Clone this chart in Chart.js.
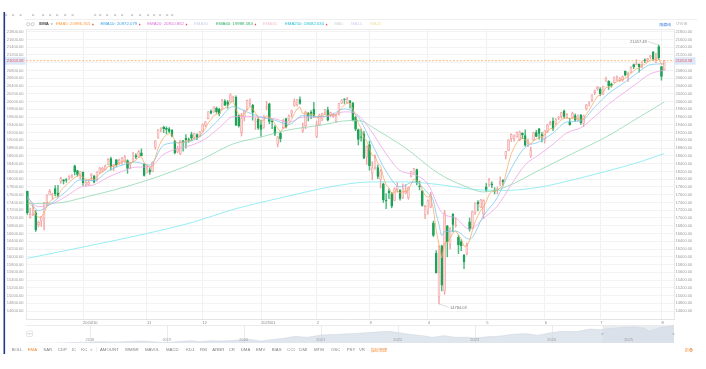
<!DOCTYPE html>
<html>
<head>
<meta charset="utf-8">
<script src="https://cdn.jsdelivr.net/npm/chart.js@4.4.1/dist/chart.umd.min.js"></script>
<style>
  body { margin: 0; background: #fff; width: 706px; height: 369px; overflow: hidden; position: relative; }
  canvas { position: absolute; left: 0; }
  #main { top: 0; }
  #nav { top: 325px; }
</style>
</head>
<body>
<canvas id="main" width="706" height="369"></canvas>
<canvas id="nav" width="706" height="18"></canvas>
<script>
// daily candles, 2024-09-03 .. 2025-08-04
const opens = [
  17689,17017,17088,17130,16824,16930,16985,17396,17594,17590,17755,17640,17940,17982,17990,18050,18070,18345,18218,18115,
  18178,17870,17857,18097,18080,17994,18176,18225,18250,18380,18530,18330,18500,18420,18460,18440,18480,18380,18460,18610,18580,18680,18380,
  18180,18240,18200,18830,19060,19280,19340,19310,19300,19260,18980,18700,18650,18990,19050,19020,19150,19080,19150,19100,
  19240,19390,19560,19750,19730,19830,19800,19800,20010,19990,19990,20100,20110,19640,19200,19590,19800,19960,19900,19480,19540,
  19400,19340,19850,19940,19480,19350,18900,19180,19330,19560,19550,19700,19900,19920,20050,19250,19380,19700,19730,19800,
  19100,19400,19550,19720,19790,19640,19620,19480,19680,19960,20070,19980,20020,19960,19600,19280,19080,19170,18570,
  18890,18160,18300,18300,18000,17880,17460,17690,17630,17450,17730,17720,17520,17640,17530,18070,18180,18250,17810,17700,17080,
  17180,17280,16870,16090,14970,16280,15120,16800,16320,17100,16800,16500,16390,16040,16080,16900,16750,17140,17400,17270,17100,
  17800,17850,17880,17720,17730,17890,17970,18600,18740,19040,19050,19100,19020,19180,19120,18860,18600,19010,19200,19300,19150,
  19040,19230,19420,19500,19440,19580,19620,19760,19590,19480,19570,19640,19520,19650,19440,19810,19960,20040,20230,20330,
  20320,20190,20530,20520,20460,20500,20620,20540,20560,20780,20700,20760,20950,20950,20960,20960,21070,21070,21150,21280,21110,21420,
  20900,20820
];
const highs = [
  17693,17255,17337,17192,16920,17036,17404,17603,17733,17640,17835,17842,18050,17990,18015,18093,18120,18364,18227,18200,
  18192,17972,17988,18140,18100,18195,18300,18308,18365,18530,18570,18380,18510,18520,18560,18610,18500,18440,18690,18650,18740,18780,18400,
  18360,18290,18450,19000,19280,19330,19365,19350,19330,19280,19000,18850,19000,19000,19150,19060,19210,19190,19170,19230,
  19420,19490,19740,19790,19870,19860,19830,20055,20050,20030,20205,20140,20150,19650,19700,19770,20035,20070,19930,19580,19580,
  19520,19640,20007,19960,19540,19380,19100,19210,19550,19570,19660,19780,20070,20060,20120,19450,19750,19720,19770,19980,
  19500,19680,19700,19800,19860,19730,19700,19670,19950,20050,20070,20110,20030,19980,19620,19290,19290,19230,18860,
  18980,18450,18630,18370,18250,17900,17630,17750,17660,17780,17910,17730,17880,17860,17800,18200,18280,18260,17950,17710,17330,
  17470,17660,16920,16160,16290,16300,17200,16810,16750,17110,17000,16560,16440,16060,16350,17000,17180,17390,17450,17480,17470,
  17890,18020,17930,17780,17800,18060,17990,18720,19020,19170,19140,19220,19240,19200,19270,19040,18830,19210,19260,19310,19200,
  19250,19420,19490,19580,19560,19620,19730,19780,19690,19570,19730,19680,19660,19670,19650,19930,20000,20180,20300,20390,
  20360,20400,20630,20540,20480,20640,20660,20620,20660,20790,20760,20900,20970,21080,20970,21030,21100,21120,21190,21290,21250,21457.48,
  20910,21060
];
const lows = [
  17091,16995,17060,16650,16770,16780,16690,17330,17590,17485,17570,17542,17893,17875,17917,17980,18030,18108,18080,18003,
  17841,17818,17842,17959,17906,17950,18150,18180,18235,18370,18230,18220,18330,18380,18380,18430,18150,18270,18450,18530,18560,18600,18080,
  18160,18120,18190,18770,19050,19220,19200,19170,19200,19090,18650,18680,18630,18720,18800,18950,18990,19030,19020,19090,
  19220,19350,19550,19680,19720,19700,19630,19790,19900,19830,19980,20010,19380,19340,19110,19500,19780,19880,19520,19280,19280,
  19100,19310,19780,19430,19300,19120,18830,18960,19300,19320,19500,19600,19880,19880,19930,19200,19300,19500,19560,19600,
  19070,19390,19500,19660,19500,19610,19590,19460,19650,19950,19950,19960,19830,19500,19250,18880,18980,18530,18380,
  18230,17990,18250,18010,17770,17400,17240,17500,17260,17440,17660,17460,17500,17630,17480,18050,18150,17850,17720,17300,16980,
  17100,17260,16520,15575,14784.03,15120,15030,16000,16200,16640,16760,16080,16160,15690,16050,16660,16730,17090,17180,17260,16980,
  17680,17810,17780,17620,17620,17830,17850,18520,18730,18970,18980,19080,18990,19040,18850,18840,18560,18990,19090,19030,18960,
  18930,19200,19400,19250,19400,19530,19570,19570,19560,19390,19560,19490,19500,19410,19360,19780,19890,20000,20180,20290,
  20150,20180,20520,20310,20370,20490,20540,20520,20520,20660,20520,20740,20850,20940,20760,20870,21000,21030,21110,21060,21000,21080,
  20550,20810
];
const closes = [
  17136,17084,17128,16691,16885,17026,17396,17570,17684,17593,17628,17573,18014,17948,17974,18074,18082,18190,18119,18189,
  17910,17925,17918,18138,17923,18183,18291,18282,18342,18503,18316,18367,18374,18489,18540,18573,18277,18415,18519,18568,18712,18607,18095,
  18240,18180,18439,18983,19269,19287,19299,19281,19231,19108,18680,18791,18987,18967,19016,19004,19054,19175,19060,19218,
  19404,19480,19735,19700,19860,19737,19688,20034,19902,19927,20173,20109,19393,19372,19573,19765,20031,20020,19722,19487,19311,
  19280,19622,19864,19490,19479,19162,19088,19044,19511,19339,19630,19757,20009,20054,19954,19342,19734,19632,19681,19627,
  19391,19654,19692,19791,19523,19714,19643,19650,19945,20027,20056,20056,19962,19524,19286,19027,19075,18544,18847,
  18350,18285,18553,18070,18196,17468,17436,17648,17303,17754,17808,17504,17751,17692,17784,18189,18272,17900,17804,17323,17299,
  17450,17601,16551,15588,15603,15268,17125,16387,16724,16832,16824,16307,16287,15870,16300,16708,17166,17383,17366,17461,17446,
  17710,17978,17844,17690,17739,17929,17929,18708,19011,19147,19113,19211,19215,19143,18873,18926,18737,19199,19101,19176,19114,
  19243,19399,19461,19298,19530,19591,19715,19615,19662,19407,19701,19521,19546,19447,19631,19913,19974,20168,20273,20370,
  20202,20393,20601,20412,20418,20611,20630,20586,20641,20677,20730,20885,20896,20974,20893,21020,21057,21108,21178,21098,21130,21122,
  20650,21053.58
];

// EMA lines
const ema5 = [
  17500,17361,17283,17086,17019,17021,17146,17287,17419,17477,17527,17542,17699,17782,17846,17922,17975,18047,18071,18110,
  18043,18004,17975,18029,17994,18057,18135,18184,18237,18326,18323,18338,18350,18396,18444,18487,18417,18416,18450,18489,
  18563,18578,18417,18358,18299,18346,18558,18795,18959,19072,19142,19172,19151,18994,18926,18946,18953,18974,18984,19007,
  19063,19062,19114,19211,19301,19446,19531,19641,19673,19678,19797,19832,19864,19967,20014,19807,19662,19632,19676,19794,
  19869,19820,19709,19576,19477,19525,19638,19589,19552,19422,19311,19222,19318,19325,19427,19537,19694,19814,19861,19688,
  19703,19679,19680,19662,19572,19599,19630,19684,19630,19658,19653,19652,19750,19842,19913,19961,19961,19815,19639,19435,
  19315,19058,18988,18775,18612,18592,18418,18344,18052,17847,17781,17622,17666,17713,17643,17679,17683,17717,17874,18007,
  17971,17915,17718,17578,17535,17557,17222,16677,16319,15969,16354,16365,16485,16601,16675,16552,16464,16266,16277,16421,
  16669,16907,17060,17194,17278,17422,17607,17686,17687,17704,17779,17829,18122,18418,18661,18812,18945,19035,19071,19005,
  18979,18898,18998,19032,19080,19091,19142,19228,19306,19303,19379,19450,19538,19564,19597,19534,19590,19567,19560,19522,
  19558,19676,19775,19906,20028,20142,20162,20239,20360,20377,20391,20464,20519,20541,20574,20608,20649,20728,20784,20847,
  20862,20915,20962,21011,21067,21077,21095,21104,20953,20986
];
const ema10Idx = [0,4,9,14,19,24,29,34,39,44,49,54,59,64,69,74,79,84,89,94,99,104,109,114,119,124,129,134,139,144,146,147,148,149,150,154,159,164,169,174,179,184,189,194,199,204,209,214,219,224,229];
const ema10 = [17560,17190,17400,17690,17980,17965,18210,18360,18440,18360,18880,18940,18985,19200,19550,19870,19730,19600,19520,19410,19640,19610,19650,19810,19600,18900,18200,17800,17930,17640,17436,17100,16828,16544,16650,16660,16454,17060,17530,18280,18820,18960,19190,19475,19500,19860,20210,20455,20720,20950,20972];
const ema20Idx = [0,4,9,14,19,24,29,34,39,44,49,54,59,64,69,74,79,84,89,94,99,104,109,114,119,124,129,134,139,144,149,154,159,164,169,174,179,184,189,194,199,204,209,214,219,224,229];
const ema20 = [17520,17290,17370,17560,17790,17855,18050,18200,18310,18320,18640,18785,18875,19040,19325,19610,19620,19590,19555,19465,19600,19600,19630,19735,19645,19200,18650,18220,18120,17870,17140,16996,16710,16990,17310,17860,18370,18630,18900,19195,19325,19615,19935,20200,20465,20715,20811];
const ema60Idx = [0,10,21,43,62,74,84,93,105,116,120,124,136,148,158,164,172,184,196,208,220,229];
const ema60 = [17370,17380,17540,17970,18485,18910,19085,19257,19385,19510,19500,19340,18800,18140,17800,17670,17800,18230,18660,19085,19600,19989];
const ema250Idx = [0,20,43,60,74,90,112,124,136,148,160,172,184,196,208,220,229];
const ema250 = [15960,16250,16600,16900,17220,17500,17840,17930,17930,17860,17740,17710,17790,17980,18200,18440,18660];

const legendNames = ["EMA5","EMA10","EMA20","EMA30","EMA60","EMA90","EMA250","MA5","MA10","MA20"];
const legendValues = ["20986.355","20972.079","20810.862",null,"19988.584",null,"18682.634",null,null,null];

const yTicks = [14600,14800,15000,15200,15400,15600,15800,16000,16200,16400,16600,16800,17000,17200,17400,17600,17800,18000,
  18200,18400,18600,18800,19000,19200,19400,19600,19800,20000,20200,20400,20600,20800,21000,21200,21400,21600,21800];
const monthStart = [20,43,63,84,104,123,144,165,186,206,228];
const monthText = ["2024/10","11","12","2025/01","2","3","4","5","6","7","8"];

// navigator (whole history)
const navYears = [2017.17,2017.33,2017.5,2017.67,2017.83,2018.0,2018.08,2018.17,2018.33,2018.5,2018.67,2018.83,2018.97,2019.17,2019.33,
  2019.42,2019.58,2019.75,2019.92,2020.08,2020.22,2020.33,2020.5,2020.67,2020.83,2021.0,2021.17,2021.33,2021.5,2021.67,
  2021.88,2022.0,2022.17,2022.33,2022.45,2022.6,2022.75,2022.9,2023.0,2023.17,2023.33,2023.5,2023.67,2023.82,2024.0,
  2024.17,2024.33,2024.5,2024.6,2024.75,2024.92,2025.08,2025.2,2025.27,2025.4,2025.5,2025.59];
const navValues = [5900,6050,6150,6400,6750,7000,7400,7250,7100,7550,8000,7300,6650,7650,8100,
  7450,8200,8000,8700,9300,8000,8900,10100,11700,11100,12900,13300,13950,14500,15200,
  16000,15000,13400,12300,11100,12400,11000,11100,10470,11500,12100,13600,14100,12800,15000,
  16100,15900,17900,17400,18200,19300,19700,18600,16300,18900,19900,21000];
const navYearTicks = [2018,2019,2020,2021,2022,2023,2024,2025];

const tabNames = ["BOLL","EMA","SAR","CDP","IC","KC",">","AMOUNT","WMSR","MAVOL","MACD","KDJ","RSI","ARBR","CR","DMA","EMV","BIAS","CCI","DMI","MTM","OSC","PSY","VR","指标管理"];

const FONT = '"Liberation Sans", Arial, sans-serif';
const CJK = '"Noto Sans CJK SC", sans-serif';
Chart.defaults.font.family = FONT;

const N = closes.length;
const lastClose = closes[N - 1];
const labels = Array.from({ length: N + 3 }, (_, i) => String(i));
const isUp = closes.map((c, i) => c >= opens[i]);

function sparse(idx, vals) {
  const out = new Array(N).fill(null);
  idx.forEach((k, j) => { out[k] = vals[j]; });
  return out;
}

function line(data, color, smooth) {
  return {
    type: 'line', data, borderColor: color, borderWidth: 0.8, pointRadius: 0,
    spanGaps: true, cubicInterpolationMode: smooth ? 'monotone' : 'default',
    yAxisID: 'y', order: 0
  };
}

const yMin = 14396, yMax = 21870;

const deco = {
  id: 'deco',
  afterDatasetsDraw(chart) {
    const ctx = chart.ctx, a = chart.chartArea, ys = chart.scales.y, xs = chart.scales.x;
    ctx.save();
    // top border of plot
    ctx.strokeStyle = '#ececec'; ctx.lineWidth = 1;
    ctx.beginPath(); ctx.moveTo(a.left, a.top + 0.5); ctx.lineTo(a.right, a.top + 0.5); ctx.stroke();
    // last price line
    const py = ys.getPixelForValue(lastClose);
    ctx.strokeStyle = 'rgba(246,160,90,0.9)'; ctx.lineWidth = 0.8; ctx.setLineDash([2, 1.5]);
    ctx.beginPath(); ctx.moveTo(a.left, py); ctx.lineTo(a.right, py); ctx.stroke();
    ctx.setLineDash([]);
    // max / min marks
    const hiVal = Math.max(...highs), loVal = Math.min(...lows);
    const hx = xs.getPixelForValue(highs.indexOf(hiVal)), hy = ys.getPixelForValue(hiVal);
    const lx = xs.getPixelForValue(lows.indexOf(loVal)), ly = ys.getPixelForValue(loVal);
    ctx.strokeStyle = '#b8b8b8'; ctx.lineWidth = 0.5;
    ctx.beginPath(); ctx.moveTo(hx, hy); ctx.lineTo(hx - 11, hy - 3.5); ctx.stroke();
    ctx.beginPath(); ctx.moveTo(lx, ly); ctx.lineTo(lx + 10, ly + 3.5); ctx.stroke();
    ctx.fillStyle = '#777'; ctx.font = '4px ' + FONT; ctx.textBaseline = 'middle';
    ctx.textAlign = 'right'; ctx.fillText(hiVal.toFixed(2), hx - 12, hy - 3.5);
    ctx.textAlign = 'left'; ctx.fillText(loVal.toFixed(2), lx + 11, ly + 3.5);
    ctx.restore();
  },
  afterDraw(chart) {
    const ctx = chart.ctx, a = chart.chartArea, ys = chart.scales.y;
    ctx.save();
    // price tags on both axes
    const py = ys.getPixelForValue(lastClose);
    ctx.font = '4px ' + FONT; ctx.textBaseline = 'middle';
    ctx.fillStyle = '#dce8f7';
    ctx.fillRect(4.5, py - 3.5, 21, 7.5);
    ctx.fillRect(a.right + 0.5, py - 3.5, 21, 7.5);
    ctx.fillStyle = '#e8505a';
    ctx.textAlign = 'right'; ctx.fillText(lastClose.toFixed(2), 23.5, py);
    ctx.textAlign = 'left'; ctx.fillText(lastClose.toFixed(2), a.right + 1.5, py);

    // page accent bar
    ctx.fillStyle = '#23388c';
    ctx.fillRect(3.5, 12, 1.6, 342);

    // toolbar row
    ctx.fillStyle = '#cfcfcf';
    [6, 13, 20.5, 33, 43, 50, 57, 65, 72.5, 95, 100, 107, 115, 122, 132, 140, 148, 154, 160, 167, 172].forEach(x => {
      ctx.fillRect(x - 1, 14.2, 2.2, 1.8);
    });
    ctx.strokeStyle = '#efefef'; ctx.lineWidth = 1;
    ctx.beginPath(); ctx.moveTo(25, 19.5); ctx.lineTo(697, 19.5); ctx.stroke();

    // legend row
    const ly = 24.2;
    ctx.strokeStyle = '#a0a0a0'; ctx.lineWidth = 0.5;
    [28.3, 32.7].forEach(cx => { ctx.beginPath(); ctx.arc(cx, ly, 1.6, 0, Math.PI * 2); ctx.stroke(); });
    ctx.font = 'bold 4.3px ' + FONT; ctx.textAlign = 'left'; ctx.fillStyle = '#444';
    ctx.fillText('EMA', 39.3, ly);
    ctx.fillStyle = '#999';
    ctx.beginPath(); ctx.moveTo(50.5, ly - 0.8); ctx.lineTo(53, ly - 0.8); ctx.lineTo(51.75, ly + 0.8); ctx.fill();
    const on = ['#ff9a3c', '#3aa2e6', '#de6fd6', '#c9cff2', '#2fb066', '#f6c3cb', '#25c2d4', '#d2d2d2', '#dccdf3', '#f2e3a4'];
    ctx.font = '4.3px ' + FONT;
    let x = 56;
    legendNames.forEach((name, i) => {
      const txt = legendValues[i] ? name + ': ' + legendValues[i] : name;
      ctx.fillStyle = on[i];
      ctx.fillText(txt, x, ly);
      x += ctx.measureText(txt).width;
      if (legendValues[i]) {
        ctx.fillStyle = '#ee4444';
        ctx.beginPath(); ctx.moveTo(x + 1.5, ly + 1); ctx.lineTo(x + 3.5, ly + 1); ctx.lineTo(x + 2.5, ly - 1); ctx.fill();
        x += 10;
      } else {
        x += 8;
      }
    });
    ctx.font = '3.9px ' + CJK; ctx.fillStyle = '#3d7fe0';
    ctx.fillText('隐藏线', 659.3, ly);
    ctx.font = '4.6px "DejaVu Sans"'; ctx.fillStyle = '#b0b0b0';
    ctx.fillText('↺⊖⊕', 676, ly);

    // indicator tabs
    const tabX = [11.7, 27.7, 43.3, 57.7, 71.7, 81.3, 90, 100, 125, 145, 166, 186, 200, 212.3, 228.7, 240.7, 256, 271.7, 287.3, 299.3, 314, 331, 346.7, 359, 371];
    tabNames.forEach((t, i) => {
      const cjk = /[\u4e00-\u9fff]/.test(t);
      ctx.font = cjk ? '4px ' + CJK : '4.3px ' + FONT;
      ctx.fillStyle = (t === 'EMA' || cjk) ? '#f28a2e' : '#808080';
      ctx.fillText(t, tabX[i], 350);
    });
    ctx.strokeStyle = '#dddddd'; ctx.lineWidth = 0.5;
    ctx.beginPath(); ctx.moveTo(96.5, 347.5); ctx.lineTo(96.5, 352.5); ctx.stroke();
    ctx.font = '4px ' + CJK; ctx.fillStyle = '#f28a2e';
    ctx.fillText('折叠', 685, 350);
    ctx.restore();
  }
};

const yTickFont = { size: 4, family: FONT };

new Chart(document.getElementById('main'), {
  type: 'bar',
  data: {
    labels,
    datasets: [
      line(ema5, 'rgba(247,166,96,0.9)', false),
      line(sparse(ema10Idx, ema10), 'rgba(120,198,240,0.95)', true),
      line(sparse(ema20Idx, ema20), 'rgba(236,160,228,0.95)', true),
      line(sparse(ema60Idx, ema60), 'rgba(140,214,172,0.95)', true),
      line(sparse(ema250Idx, ema250), 'rgba(120,232,240,0.95)', true),
      {
        label: 'body', data: opens.map((o, i) => [o, closes[i]]),
        backgroundColor: isUp.map(u => u ? '#fcd9d9' : '#1fa257'),
        borderColor: isUp.map(u => u ? '#f29c9c' : '#1fa257'),
        borderWidth: 0.6, borderSkipped: false, barThickness: 2, minBarLength: 0.6,
        grouped: false, yAxisID: 'y', order: 2
      },
      {
        label: 'wick', data: lows.map((l, i) => [l, highs[i]]),
        backgroundColor: isUp.map(u => u ? '#f3a6a6' : '#4cb97c'),
        borderWidth: 0, barThickness: 0.8,
        grouped: false, yAxisID: 'y', order: 3
      }
    ]
  },
  options: {
    responsive: false, animation: false, events: [], devicePixelRatio: 1,
    layout: { padding: { left: 4, right: 0, top: 29, bottom: 43 } },
    plugins: { legend: { display: false }, tooltip: { enabled: false } },
    scales: {
      x: {
        type: 'category', offset: true,
        grid: { offset: false, color: '#f1f1f1', drawTicks: false },
        border: { color: '#e4e4e4' },
        ticks: {
          autoSkip: false, maxRotation: 0, align: 'start', padding: 1.5, color: '#888',
          font: { size: 4, family: FONT },
          callback: (v, i) => { const k = monthStart.indexOf(i); return k >= 0 ? monthText[k] : null; }
        },
        afterFit: s => { s.height = 7; }
      },
      y: {
        position: 'right', min: yMin, max: yMax,
        afterBuildTicks: s => { s.ticks = yTicks.map(v => ({ value: v })); },
        grid: { color: '#f3f3f3', drawTicks: false },
        border: { color: '#e8e8e8' },
        ticks: { padding: 1.5, color: '#9a9a9a', font: yTickFont,
          callback: v => Math.abs(v - lastClose) < 120 ? '' : v.toFixed(2) },
        afterFit: s => { s.width = 32; }
      },
      yl: {
        position: 'left', min: yMin, max: yMax,
        afterBuildTicks: s => { s.ticks = yTicks.map(v => ({ value: v })); },
        grid: { display: false, drawTicks: false },
        border: { color: '#e8e8e8' },
        ticks: { padding: 2.5, color: '#9a9a9a', font: yTickFont,
          callback: v => Math.abs(v - lastClose) < 120 ? '' : v.toFixed(2) },
        afterFit: s => { s.width = 22; }
      }
    }
  },
  plugins: [deco]
});

// navigator strip
const selStart = 2024.66;
const navDeco = {
  id: 'navDeco',
  beforeDatasetsDraw(chart) {
    const ctx = chart.ctx, a = chart.chartArea, xs = chart.scales.x;
    ctx.save();
    ctx.fillStyle = 'rgba(222,229,237,0.7)';
    const sx = xs.getPixelForValue(selStart);
    ctx.fillRect(sx, a.top, a.right - sx, a.bottom - a.top);
    ctx.strokeStyle = '#ebebeb'; ctx.lineWidth = 1;
    ctx.beginPath(); ctx.moveTo(a.left, 0.5); ctx.lineTo(a.right, 0.5); ctx.stroke();
    navYearTicks.forEach(t => {
      const px = Math.round(xs.getPixelForValue(t)) + 0.5;
      ctx.beginPath(); ctx.moveTo(px, a.top); ctx.lineTo(px, a.bottom); ctx.stroke();
    });
    ctx.restore();
  },
  afterDatasetsDraw(chart) {
    const ctx = chart.ctx, a = chart.chartArea, xs = chart.scales.x;
    ctx.save();
    ctx.font = '4px ' + FONT; ctx.fillStyle = '#9a9a9a'; ctx.textAlign = 'center'; ctx.textBaseline = 'middle';
    navYearTicks.forEach(t => ctx.fillText(String(t), xs.getPixelForValue(t), 15.2));
    // handles
    const sx = xs.getPixelForValue(selStart);
    ctx.fillStyle = '#8a8a8a';
    ctx.fillRect(sx - 1, 8.6, 2, 0.7);
    ctx.fillRect(a.right - 1.5, 8.6, 2, 0.7);
    // small menu button
    ctx.fillStyle = '#fff'; ctx.strokeStyle = '#cfcfcf'; ctx.lineWidth = 0.5;
    ctx.beginPath(); ctx.roundRect(26.5, 6, 6, 5.5, 1); ctx.fill(); ctx.stroke();
    ctx.fillStyle = '#777';
    [28, 29.5, 31].forEach(px => ctx.fillRect(px - 0.35, 8.5, 0.7, 0.7));
    ctx.restore();
  }
};

new Chart(document.getElementById('nav'), {
  type: 'line',
  data: {
    datasets: [{
      data: navYears.map((t, i) => ({ x: t, y: navValues[i] })),
      fill: 'start', backgroundColor: 'rgba(214,222,231,0.75)', borderColor: 'rgba(200,209,219,0.9)',
      borderWidth: 0.5, pointRadius: 0, tension: 0.2
    }]
  },
  options: {
    responsive: false, animation: false, events: [], devicePixelRatio: 1,
    layout: { padding: { left: 26, right: 32, top: 0, bottom: 0 } },
    plugins: { legend: { display: false }, tooltip: { enabled: false } },
    scales: {
      x: { type: 'linear', min: 2017.17, max: 2025.59, display: false },
      y: { min: 6300, max: 21300, display: false }
    }
  },
  plugins: [navDeco]
});
</script>
</body>
</html>
